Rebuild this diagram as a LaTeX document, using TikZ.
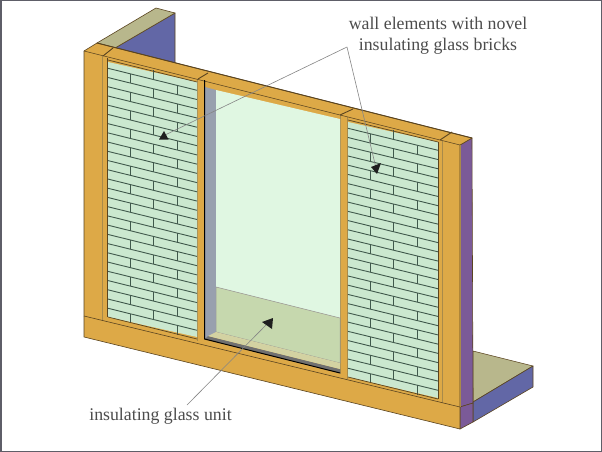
\documentclass[tikz,border=0pt]{standalone}
\usepackage{fontspec}
\setmainfont{Liberation Serif}
\definecolor{wood}{HTML}{DDA947}
\definecolor{edge}{HTML}{5A4420}
\definecolor{postline}{HTML}{A88A4A}
\definecolor{purp}{HTML}{7B5A98}
\definecolor{blu}{HTML}{6267A6}
\definecolor{oliv}{HTML}{B8B78C}
\definecolor{brick}{HTML}{CBE8CF}
\definecolor{joint}{HTML}{40594C}
\definecolor{glass}{HTML}{E0F7E2}
\definecolor{lowglass}{HTML}{C6D8AE}
\definecolor{frameg}{HTML}{98A0AE}
\definecolor{framel}{HTML}{D3D2A2}
\definecolor{framed}{HTML}{707070}
\definecolor{lead}{HTML}{858585}
\definecolor{border}{HTML}{5E5E68}
\tikzset{
  part/.style={draw=edge,line width=.6pt,line join=round},
  postedge/.style={draw=postline,line width=.7pt},
  jointline/.style={draw=joint,line width=.9pt},
  leader/.style={draw=lead,line width=.6pt},
  head/.style={fill=black!88,draw=none},
  caption/.style={inner sep=0pt,font=\fontsize{17.8}{21}\selectfont,text=black!70,align=center}
}
\begin{document}
\begin{tikzpicture}[x=1pt,y=-1pt]
\useasboundingbox (0,0) rectangle (602,452);
\fill[white] (0,0) rectangle (602,452);
% return walls
\path[part,fill=blu] (115,48) -- (175,13) -- (175,63) -- cycle;
\path[part,fill=oliv] (97,43) -- (156,8) -- (175,13) -- (115,48) -- cycle;
\path[part,fill=oliv] (473,351) -- (533,366) -- (473,402) -- cycle;
\path[part,fill=blu] (473,402) -- (533,366) -- (533,387) -- (473,422) -- cycle;
% end faces
\path[part,fill=purp] (460,145) -- (472,138) -- (473,403) -- (460,407) -- cycle;
\path[part,fill=purp] (460,407) -- (473,403) -- (473,422) -- (460,429) -- cycle;
% main frame
\path[part,fill=wood] (84,51) -- (97,43) -- (472,138) -- (460,145) -- (460,429) -- (84,337) -- cycle;
% post edges
\draw[postedge] (102.5,56) -- (102.5,321);
\draw[postedge] (197,79) -- (197,341);
\draw[postedge] (340.5,115) -- (340.5,374);
\draw[postedge] (347.5,117) -- (347.5,379);
\draw[postedge] (442,141) -- (442,403);
\draw[postedge] (460,145) -- (460,407);
% top beam lines
\draw[part] (84,51) -- (460,145);
\draw[part,line width=.9pt] (97,43) -- (472,138);
\draw[part,line width=.9pt] (103,56) -- (113,48);
\draw[part,line width=.9pt] (198,79) -- (208,73);
\draw[part,line width=.9pt] (340,115) -- (353,109);
\draw[part,line width=.9pt] (440,140) -- (452,132);
% base line
\draw[part] (84,316) -- (460,407);
% left bricks
\path[fill=brick] (108,62) -- (197,82) -- (197,337) -- (108,317) -- cycle;
\foreach \k in {-1,...,26}{
  \pgfmathsetmacro\ya{68.3+9.23*\k}
  \pgfmathsetmacro\yb{\ya+9.23}
  \ifnum\k>-1 \draw[jointline] (108,\ya) -- (197,\ya+22); \fi
  \pgfmathparse{int(mod(\k+2,2))}
  \ifnum\pgfmathresult=0
    \draw[jointline] (130,\ya+5.5) -- (130,\yb+5.5);
    \draw[jointline] (177,\ya+17.2) -- (177,\yb+17.2);
  \else
    \draw[jointline] (153,\ya+11.2) -- (153,\yb+11.2);
  \fi
}
% right bricks
\path[fill=brick] (348,122) -- (438,142) -- (438,398) -- (348,377) -- cycle;
\foreach \k in {-1,...,26}{
  \pgfmathsetmacro\ya{128.3+9.23*\k}
  \pgfmathsetmacro\yb{\ya+9.23}
  \ifnum\k>-1 \draw[jointline] (348,\ya) -- (438,\ya+22); \fi
  \pgfmathparse{int(mod(\k+2,2))}
  \ifnum\pgfmathresult=0
    \draw[jointline] (370,\ya+5.5) -- (370,\yb+5.5);
    \draw[jointline] (417,\ya+17.2) -- (417,\yb+17.2);
  \else
    \draw[jointline] (393,\ya+11.2) -- (393,\yb+11.2);
  \fi
}
% panel borders
\draw[edge,line width=.7pt] (108,60) -- (197,82) (108,317) -- (197,339) (348,120) -- (438,142) (348,377) -- (438,399);
\draw[edge,line width=.6pt] (107.5,58) -- (107.5,317) (438.5,142) -- (438.5,399);
% window
\path[fill=frameg] (205,87) -- (216,90) -- (216,332) -- (205,339) -- cycle;
\path[fill=glass] (216,90) -- (340,119) -- (340,318) -- (216,287) -- cycle;
\path[fill=lowglass,draw=black!40,line width=.5pt] (216,287) -- (340,318) -- (340,363) -- (216,332) -- cycle;
\path[fill=framed] (205,339) -- (208,336) -- (340,369) -- (340,373) -- cycle;
\path[fill=framel] (208,336) -- (216,332) -- (340,363) -- (340,369) -- cycle;
\draw[black,line width=1pt] (204.5,80) -- (204.5,339) -- (340,373);
% leaders
\coordinate (apex) at (347,47);
\coordinate (tipa) at (164,135.5);
\coordinate (tipb) at (376,168);
\coordinate (start) at (187,405);
\coordinate (tipc) at (268,323);
\draw[leader] (apex) -- (tipa);
\draw[leader] (apex) -- (tipb);
\draw[leader] (start) -- (tipc);
\fill[head] (159,139.5) -- (168.5,139.5) -- (164,131) -- cycle;
\fill[head] (371,167) -- (381,163) -- (377,174) -- cycle;
\fill[head] (273,318) -- (262,322) -- (272,329) -- cycle;
% labels
\node[caption] (walllabel) at (438,35.5) {wall elements with novel\\insulating glass bricks};
\node[caption] (unitlabel) at (160.5,416) {insulating glass unit};
% border
\draw[border,line width=1.5pt] (.75,.75) rectangle (601.25,451.25);
\end{tikzpicture}
\end{document}
